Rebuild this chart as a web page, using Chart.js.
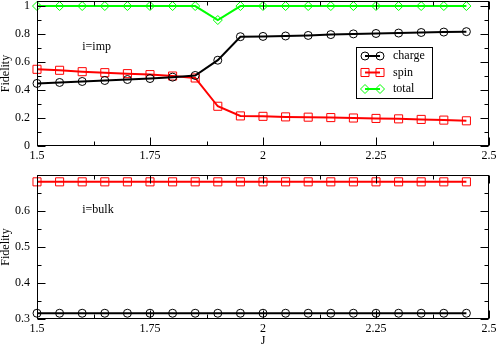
<!DOCTYPE html>
<html>
<head>
<meta charset="utf-8">
<script src="https://cdn.jsdelivr.net/npm/chart.js@4.4.1/dist/chart.umd.min.js"></script>
<style>
  html, body { margin: 0; padding: 0; background: #fff; }
  #wrap { position: relative; width: 498px; height: 348px; }
  canvas { position: absolute; left: 0; }
  #imp { top: 0; }
  #bulk { top: 170px; }
</style>
</head>
<body>
<div id="wrap">
  <canvas id="imp" width="498" height="168"></canvas>
  <canvas id="bulk" width="498" height="178"></canvas>
</div>
<script>
// valori
var J = [1.5, 1.55, 1.6, 1.65, 1.7, 1.75, 1.8, 1.85, 1.9, 1.95, 2.0, 2.05, 2.1, 2.15, 2.2, 2.25, 2.3, 2.35, 2.4, 2.45];

var chargeImp = [0.447, 0.454, 0.461, 0.468, 0.475, 0.482, 0.492, 0.504, 0.613, 0.781, 0.783, 0.786, 0.790, 0.796, 0.801, 0.804, 0.807, 0.811, 0.814, 0.817];
var spinImp   = [0.548, 0.541, 0.531, 0.524, 0.517, 0.510, 0.500, 0.486, 0.284, 0.215, 0.212, 0.208, 0.206, 0.203, 0.200, 0.197, 0.194, 0.190, 0.185, 0.180];
var totalImp  = [1, 1, 1, 1, 1, 1, 1, 1, 0.9, 1, 1, 1, 1, 1, 1, 1, 1, 1, 1, 1];

var chargeBulk = [0.316, 0.316, 0.316, 0.316, 0.316, 0.316, 0.316, 0.316, 0.316, 0.316, 0.316, 0.316, 0.316, 0.316, 0.316, 0.316, 0.316, 0.316, 0.316, 0.316];
var spinBulk   = [0.681, 0.681, 0.681, 0.681, 0.681, 0.681, 0.681, 0.681, 0.681, 0.681, 0.681, 0.681, 0.681, 0.681, 0.681, 0.681, 0.681, 0.681, 0.681, 0.681];

var xTicks = [1.5, 1.75, 2, 2.25, 2.5];
var yTicksImp = [0, 0.2, 0.4, 0.6, 0.8, 1];
var yTicksBulk = [0.3, 0.4, 0.5, 0.6];

Chart.defaults.font.family = '"Liberation Serif", "DejaVu Serif", serif';
Chart.defaults.font.size = 12;
Chart.defaults.color = '#000';

function serie(label, values, color, style, radius) {
    return {
        label: label,
        data: J.map(function (j, i) { return { x: j, y: values[i] }; }),
        borderColor: color,
        backgroundColor: 'rgba(0,0,0,0)',
        borderWidth: 2,
        pointStyle: style,
        pointRadius: radius,
        pointBorderWidth: 1,
        pointBorderColor: color,
        pointBackgroundColor: 'rgba(0,0,0,0)',
        tension: 0,
        clip: false
    };
}

function fmt(v) { return String(Math.round(v * 100) / 100); }

// cornice con tacche verso l'interno su tutti i lati, testo e legenda
var cornice = {
    id: 'cornice',
    afterDraw: function (chart, args, opts) {
        var ctx = chart.ctx, a = chart.chartArea, sx = chart.scales.x, sy = chart.scales.y;
        var L = Math.round(a.left) + 0.5, R = Math.round(a.right) - 0.5;
        var T = Math.round(a.top) + 0.5, B = Math.round(a.bottom) - 0.5;
        ctx.save();
        ctx.strokeStyle = '#000';
        ctx.lineWidth = 1;
        ctx.strokeRect(L, T, R - L, B - T);
        ctx.beginPath();
        var n = Math.round((sx.max - sx.min) / opts.xMinor);
        for (var i = 0; i <= n; i++) {
            var len = (i % 2 === 0) ? 8 : 4;
            var px = Math.round(sx.getPixelForValue(sx.min + i * opts.xMinor)) + 0.5;
            ctx.moveTo(px, B); ctx.lineTo(px, B - len);
            ctx.moveTo(px, T); ctx.lineTo(px, T + len);
        }
        var m = Math.round((opts.yTop - opts.yBottom) / opts.yMinor);
        for (var k = 0; k <= m; k++) {
            var l2 = (k % 2 === 0) ? 8 : 4;
            var py = Math.round(sy.getPixelForValue(opts.yBottom + k * opts.yMinor)) + 0.5;
            ctx.moveTo(L, py); ctx.lineTo(L + l2, py);
            ctx.moveTo(R, py); ctx.lineTo(R - l2, py);
        }
        ctx.stroke();

        ctx.fillStyle = '#000';
        ctx.font = '12px "Liberation Serif", "DejaVu Serif", serif';
        ctx.textAlign = 'left';
        ctx.textBaseline = 'middle';
        ctx.fillText(opts.testo, sx.getPixelForValue(opts.tx), sy.getPixelForValue(opts.ty));

        if (opts.legenda) {
            var bx = a.left + 319, by = a.top + 46;
            ctx.strokeRect(Math.round(bx) + 0.5, Math.round(by) + 0.5, 76, 51);
            chart.data.datasets.forEach(function (ds, idx) {
                var yy = by + 9 + idx * 16.5;
                ctx.beginPath();
                ctx.strokeStyle = ds.borderColor;
                ctx.lineWidth = ds.borderWidth;
                ctx.moveTo(bx + 9, yy); ctx.lineTo(bx + 24, yy);
                ctx.stroke();
                ctx.lineWidth = 1;
                ctx.fillStyle = 'rgba(0,0,0,0)';
                [bx + 9, bx + 24].forEach(function (px) {
                    Chart.helpers.drawPoint(ctx, { pointStyle: ds.pointStyle, radius: ds.pointRadius, borderWidth: 1, rotation: 0 }, px, yy);
                });
                ctx.fillStyle = '#000';
                ctx.fillText(ds.label, bx + 37, yy);
            });
        }
        ctx.restore();
    }
};

function opzioni(yMin, yMax, yTicks, xHeight, xTitle, extra) {
    return {
        responsive: false,
        animation: false,
        events: [],
        layout: { autoPadding: false, padding: { top: extra.padTop, right: 9, left: 0, bottom: 0 } },
        scales: {
            x: {
                type: 'linear',
                min: 1.5,
                max: 2.5,
                grid: { display: false, drawTicks: false },
                border: { display: false },
                afterBuildTicks: function (s) { s.ticks = xTicks.map(function (v) { return { value: v }; }); },
                afterFit: function (s) { s.height = xHeight; s.paddingLeft = 0; s.paddingRight = 0; },
                ticks: { autoSkip: false, maxRotation: 0, padding: 3, callback: fmt },
                title: { display: !!xTitle, text: xTitle, padding: { top: 0, bottom: 0 } }
            },
            y: {
                min: yMin,
                max: yMax,
                grid: { display: false, drawTicks: false },
                border: { display: false },
                afterBuildTicks: function (s) { s.ticks = yTicks.map(function (v) { return { value: v }; }); },
                afterFit: function (s) { s.width = 37; s.paddingTop = 0; s.paddingBottom = 0; },
                ticks: { padding: 7, callback: fmt },
                title: { display: true, text: 'Fidelity', padding: { top: -1, bottom: 0 } }
            }
        },
        plugins: {
            legend: { display: false },
            tooltip: { enabled: false },
            cornice: extra.cornice
        }
    };
}

new Chart(document.getElementById('imp'), {
    type: 'line',
    data: {
        datasets: [
            serie('charge', chargeImp, '#000000', 'circle', 4),
            serie('spin', spinImp, '#ff0000', 'rect', 5.7),
            serie('total', totalImp, '#00ff00', 'rectRot', 4.5)
        ]
    },
    options: opzioni(0, 1.036, yTicksImp, 22, '', {
        padTop: 1,
        cornice: { xMinor: 0.125, yBottom: 0, yTop: 1, yMinor: 0.1, testo: 'i=imp', tx: 1.6, ty: 0.705, legenda: true }
    }),
    plugins: [cornice]
});

new Chart(document.getElementById('bulk'), {
    type: 'line',
    data: {
        datasets: [
            serie('charge', chargeBulk, '#000000', 'circle', 4),
            serie('spin', spinBulk, '#ff0000', 'rect', 5.7)
        ]
    },
    options: opzioni(0.3, 0.7, yTicksBulk, 29, 'J', {
        padTop: 5,
        cornice: { xMinor: 0.125, yBottom: 0.3, yTop: 0.7, yMinor: 0.05, testo: 'i=bulk', tx: 1.6, ty: 0.603, legenda: false }
    }),
    plugins: [cornice]
});
</script>
</body>
</html>
